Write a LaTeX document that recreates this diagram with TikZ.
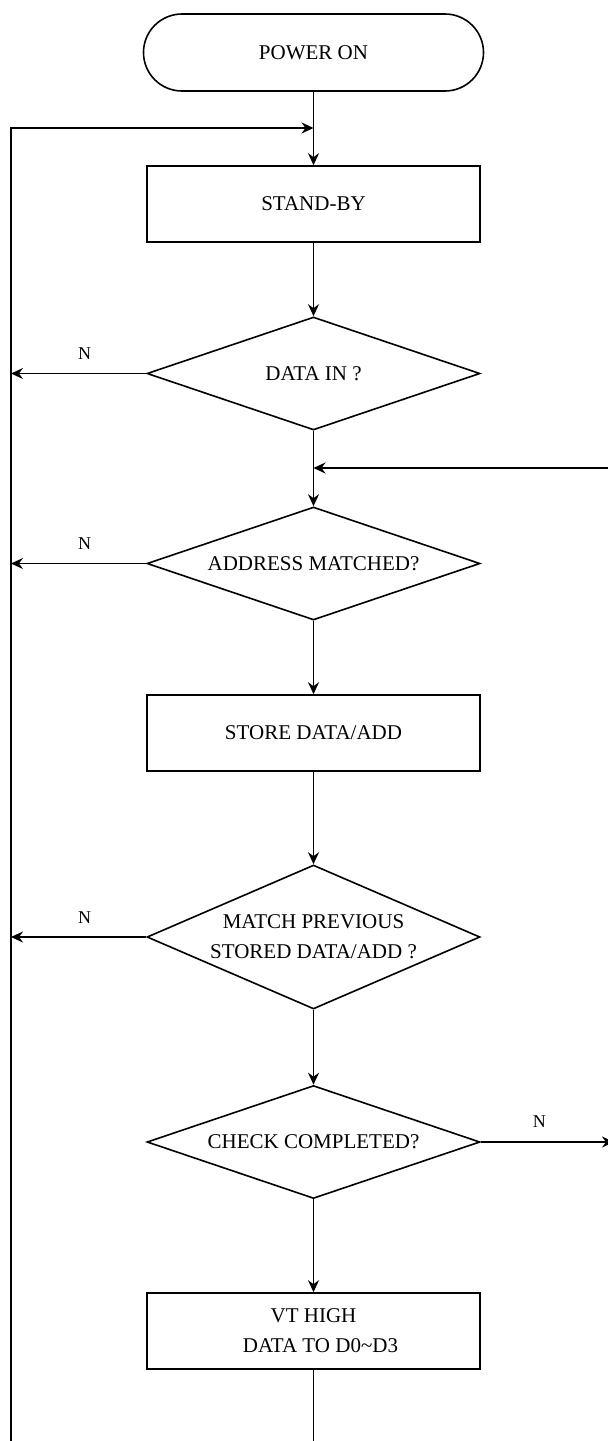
\documentclass[tikz,border=0pt]{standalone}
\usepackage{fontspec}
\setmainfont{Liberation Serif}
\usetikzlibrary{shapes.geometric,arrows.meta}
\begin{document}
\begin{tikzpicture}[x=1pt,y=-1pt,
  font=\fontsize{21}{30}\selectfont,
  line width=1.6pt,
  arr/.style={-{Stealth[length=12pt,width=11pt,inset=4pt]}},
  term/.style={draw, rectangle, rounded corners=38.5pt, minimum width=340pt, minimum height=77pt, inner sep=0pt},
  proc/.style={draw, rectangle, minimum width=333pt, minimum height=76pt, inner sep=0pt, align=center},
  dec/.style={draw, diamond, aspect=2.95, minimum width=333pt, minimum height=113pt, inner sep=0pt, align=center},
  lbl/.style={font=\fontsize{18}{20}\selectfont, inner sep=0pt}
]
\useasboundingbox (0,0) rectangle (608,1441);

\node[term] (pwr) at (313.5,52.5) {POWER ON};
\node[proc] (stby) at (313.5,204) {STAND-BY};
\node[dec] (din) at (313.5,373.5) {DATA IN ?};
\node[dec] (addr) at (313.5,563.5) {ADDRESS MATCHED?};
\node[proc] (store) at (313.5,733) {STORE DATA/ADD};
\node[dec, aspect=2.31, minimum height=144pt] (match) at (313.5,937) {MATCH PREVIOUS\\STORED DATA/ADD ?};
\node[dec] (chk) at (313.5,1142) {CHECK COMPLETED?};
\node[proc] (vt) at (313.5,1331) {VT HIGH\\\hspace*{14pt}DATA TO D0\textasciitilde D3};

\coordinate (ltop) at (11,128);
\coordinate (lbot) at (11,1446);
\coordinate (j1) at (313.5,128);
\coordinate (j2) at (313.5,468);
\coordinate (rin) at (612,468);
\coordinate (rout) at (614,1142);
\coordinate (bot) at (313.5,1446);

\draw[arr] (pwr) -- (stby);
\draw[arr] (lbot) -- (ltop) -- (j1);
\draw[arr] (stby) -- (din);
\draw[arr] (din.west) -- (din.west -| ltop) node[lbl, pos=0.455, above=13pt] {N};
\draw[arr] (din) -- (addr);
\draw[arr] (rin) -- (j2);
\draw[arr] (addr.west) -- (addr.west -| ltop) node[lbl, pos=0.455, above=13pt] {N};
\draw[arr] (addr) -- (store);
\draw[arr] (store) -- (match);
\draw[arr] (match.west) -- (match.west -| ltop) node[lbl, pos=0.455, above=13pt] {N};
\draw[arr] (match) -- (chk);
\draw[arr] (chk.east) -- (rout) node[lbl, pos=0.44, above=14pt] {N};
\draw[arr] (chk) -- (vt);
\draw (vt) -- (bot);
\end{tikzpicture}
\end{document}
